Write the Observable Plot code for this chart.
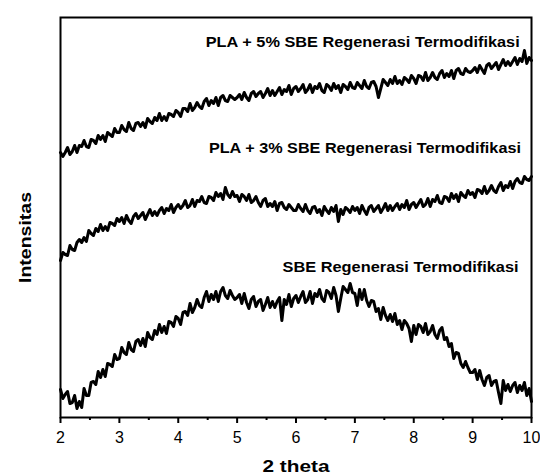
<!DOCTYPE html>
<html>
<head>
<meta charset="utf-8">
<script src="https://cdn.jsdelivr.net/npm/d3@7"></script>
<script src="https://cdn.jsdelivr.net/npm/@observablehq/plot@0.6"></script>
<style>
  html, body { margin: 0; padding: 0; background: #fff; }
  #chart { width: 540px; height: 476px; }
  svg { font-family: "Liberation Sans", Arial, sans-serif; }
</style>
</head>
<body>
<div id="chart"></div>
<script>
// 2-theta sampling: start 2, step 0.04, 201 points per series
const thetaStart = 2;
const thetaStep = 0.04;

// Intensities (arbitrary units, curves offset as in the figure)
const pla5 = [
  265,261,265,270,263,266,272,265,272,271,277,271,270,278,277,274,282,278,282,276,285,283,281,289,285,
  285,292,288,286,295,289,287,294,295,291,295,290,299,296,294,300,297,304,297,301,297,304,303,301,307,
  305,301,309,309,306,314,307,310,315,311,309,316,319,312,317,314,320,312,320,322,317,316,322,320,318,
  320,323,318,325,320,317,324,326,321,324,326,320,324,329,322,327,322,326,330,323,328,326,332,323,329,
  331,326,329,333,325,328,333,325,331,329,334,327,325,333,331,327,334,329,332,325,333,331,328,335,330,
  329,335,332,329,337,331,329,335,336,331,320,329,338,335,332,338,334,341,334,337,333,340,338,335,342,
  339,334,342,341,337,345,337,340,345,340,338,344,347,340,344,341,347,339,347,349,344,343,349,346,345,
  347,350,345,352,348,344,352,354,349,352,355,348,353,358,352,356,352,356,360,353,359,356,367,354,360,
  357
];

const pla3 = [
  157,165,163,162,172,168,167,175,178,175,180,176,187,184,182,189,186,193,187,191,187,195,194,192,199,
  196,200,194,202,197,194,201,204,199,202,205,198,203,208,202,206,202,207,210,204,209,207,213,205,210,
  213,209,212,217,210,212,218,211,217,216,221,215,214,221,220,217,225,221,224,218,230,223,220,226,221,
  222,216,223,221,217,223,215,217,221,215,211,217,219,211,214,211,216,207,214,215,210,208,213,210,207,
  207,213,209,206,213,207,204,210,211,205,208,202,211,207,204,210,206,212,196,208,203,210,208,205,211,
  207,210,204,212,207,203,210,212,206,209,212,205,209,214,207,212,207,211,214,208,213,210,217,208,213,
  215,210,214,218,211,213,219,211,218,216,222,215,214,221,220,216,224,219,223,216,225,222,220,227,223,
  225,220,228,227,224,231,224,227,232,227,225,231,235,227,232,230,236,229,236,239,235,234,241,238,237,
  241
];

const sbe = [
  28,19,23,26,14,15,22,9,16,10,29,22,22,35,36,33,46,40,48,41,54,53,51,63,58,
  59,70,65,63,75,68,66,76,78,72,79,71,85,80,78,87,83,93,85,91,84,96,95,91,101,
  99,93,105,106,102,114,105,110,118,112,110,120,126,116,123,118,126,116,126,130,122,119,127,122,118,
  120,123,114,124,115,109,118,121,111,116,118,107,113,120,110,116,110,116,120,97,118,113,123,111,119,
  122,115,121,126,115,118,126,114,124,121,128,119,116,127,125,119,130,122,106,119,131,128,125,134,125,
  124,112,128,118,128,117,111,117,116,106,109,98,110,102,97,103,96,104,93,97,88,97,94,89,76,
  92,83,93,91,85,94,83,86,92,83,79,87,90,78,80,71,74,59,65,64,54,50,56,50,45,
  45,48,38,47,38,32,40,42,32,36,37,25,14,37,27,33,26,32,35,25,32,27,35,22,29,
  16
];

const seriesNames = ["PLA + 5% SBE Regenerasi Termodifikasi", "PLA + 3% SBE Regenerasi Termodifikasi", "SBE Regenerasi Termodifikasi"];
const xTicks = [2, 3, 4, 5, 6, 7, 8, 9, 10];
const xMinorTicks = [2.5, 3.5, 4.5, 5.5, 6.5, 7.5, 8.5, 9.5];
// label anchors (right end of each label) in data coordinates
const labelX = [9.8, 9.82, 9.78];
const labelY = [375, 269, 150];
const xTitle = "2 theta";
const yTitle = "Intensitas";

const toRows = (arr, name) => arr.map((v, i) => ({theta: +(thetaStart + i * thetaStep).toFixed(2), I: v, series: name}));
const rows = [
  ...toRows(pla5, seriesNames[0]),
  ...toRows(pla3, seriesNames[1]),
  ...toRows(sbe, seriesNames[2])
];
const labels = seriesNames.map((s, i) => ({text: s, x: labelX[i], y: labelY[i]}));

const plot = Plot.plot({
  width: 540,
  height: 476,
  marginLeft: 60,
  marginRight: 9,
  marginTop: 17,
  marginBottom: 59,
  x: {domain: [2, 10]},
  y: {domain: [0, 400], axis: null},
  style: {fontFamily: "Liberation Sans, Arial, sans-serif", background: "white", color: "black"},
  marks: [
    Plot.line(rows, {x: "theta", y: "I", z: "series", stroke: "black", strokeWidth: 3, strokeLinejoin: "round"}),
    Plot.frame({stroke: "black", strokeWidth: 2}),
    Plot.axisX({ticks: xMinorTicks, tickSize: 3, tickFormat: () => "", strokeWidth: 2, label: null}),
    Plot.axisX({ticks: xTicks, tickSize: 6, tickPadding: 8, fontSize: 16, label: null, strokeWidth: 2, tickFormat: d => String(d)}),
    Plot.text(labels, {x: "x", y: "y", text: "text", textAnchor: "end", fontSize: 15.5, fontWeight: "bold", fill: "black"}),
    Plot.text([xTitle], {frameAnchor: "bottom", dy: 54, fontSize: 17, fontWeight: "bold", fill: "black"}),
    Plot.text([yTitle], {frameAnchor: "left", textAnchor: "middle", dx: -35, dy: 20, rotate: -90, fontSize: 17, fontWeight: "bold", fill: "black"})
  ]
});
document.getElementById("chart").appendChild(plot);

// match the stretched lettering of the original figure
const textWidths = new Map([
  [seriesNames[0], 314], [seriesNames[1], 312], [seriesNames[2], 236],
  [xTitle, 67], [yTitle, 91]
]);
d3.select(plot).selectAll("text").each(function () {
  const w = textWidths.get(this.textContent);
  if (w) d3.select(this).attr("textLength", w).attr("lengthAdjust", "spacingAndGlyphs");
});
</script>
</body>
</html>
